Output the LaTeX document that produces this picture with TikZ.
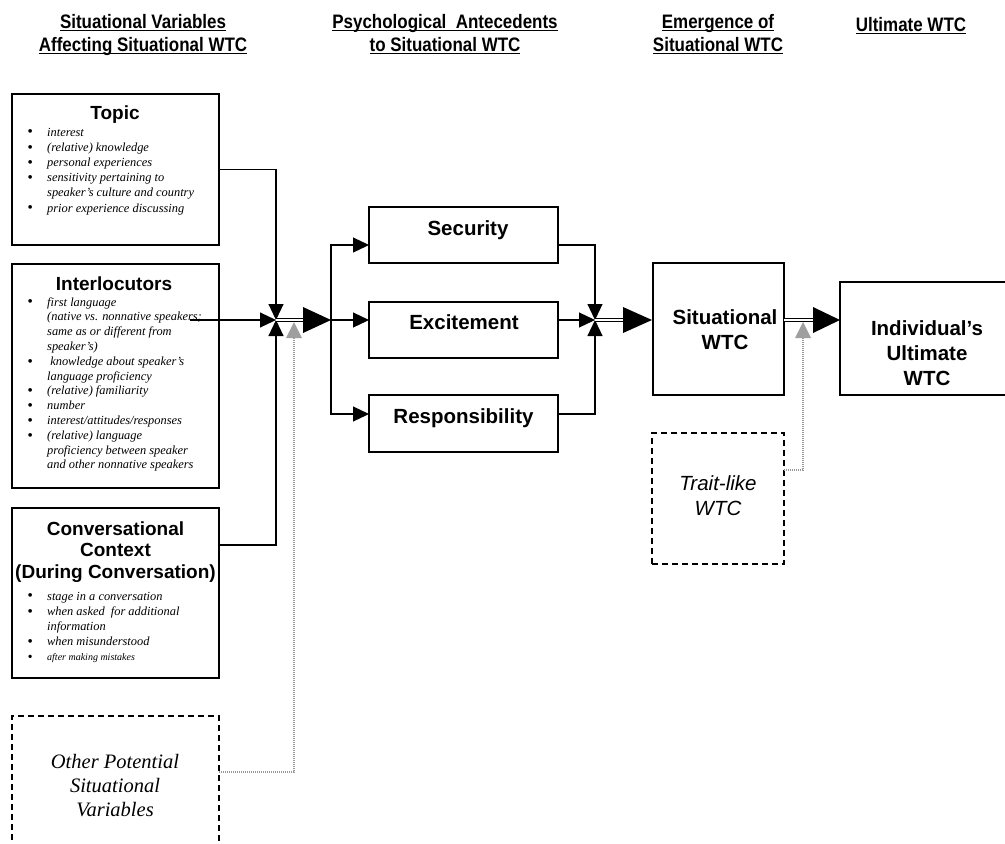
\documentclass[tikz,border=0pt]{standalone}
\usepackage{fontspec}
\setmainfont{Liberation Serif}
\newfontfamily\arial{Liberation Sans}
\newfontfamily\narrow[FakeStretch=0.87]{Liberation Sans}
\usetikzlibrary{arrows.meta,calc}
\newcommand\hul[1]{\setbox0=\hbox{#1}\rlap{\rule[-3.2pt]{\wd0}{1.6pt}}\box0}
\newcommand\mylines[1]{\begin{tabular}[t]{@{}c@{}}#1\end{tabular}}
\newcommand\bu{\makebox[34pt]{\raisebox{-0.8pt}{\smash{\fontsize{15.5}{15}\selectfont\textbullet}}}}
\newcommand\sbu{\makebox[34pt]{\raisebox{-0.6pt}{\smash{\fontsize{14}{15}\selectfont\textbullet}}}}
\newcommand\blist[1]{\begin{tabular}[t]{@{}l@{}l@{}}#1\end{tabular}}
\tikzset{
  box/.style={draw, line width=2pt, inner sep=0pt},
  dbox/.style={draw, line width=1.6pt, dash pattern=on 6pt off 4pt},
  conn/.style={line width=1.2pt},
  sarrow/.style={conn, -{Triangle[length=16pt,width=15pt]}},
  dbl/.style={double, double distance=1.6pt, line width=0.9pt},
  gdot/.style={gray!80, line width=1.5pt, dash pattern=on 1pt off 1pt},
  bigtri/.style={fill=black},
  graytri/.style={fill=gray!75},
  heading/.style={font=\narrow\bfseries\fontsize{19.5}{23}\selectfont, inner sep=0pt, anchor=base},
  btitle/.style={font=\arial\bfseries\fontsize{19}{21.5}\selectfont, inner sep=0pt, anchor=base},
  mtitle/.style={font=\arial\bfseries\fontsize{20.5}{25}\selectfont, inner sep=0pt, anchor=base},
  items/.style={font=\itshape\fontsize{12.4}{15.2}\selectfont, inner sep=0pt, anchor=base west},
  items2/.style={font=\itshape\fontsize{12.4}{14.8}\selectfont, inner sep=0pt, anchor=base west},
  dtext/.style={font=\itshape\fontsize{20.5}{24}\selectfont, inner sep=0pt, anchor=base},
  dtext2/.style={font=\arial\itshape\fontsize{20.5}{25}\selectfont, inner sep=0pt, anchor=base},
}
\begin{document}
\begin{tikzpicture}[x=1pt,y=-1pt]
\useasboundingbox (0,0) rectangle (1005,844);

% headings
\node[heading] (h1) at (143,28) {\mylines{\hul{Situational Variables}\\\hul{Affecting Situational WTC}}};
\node[heading] (h2) at (445,28) {\mylines{\hul{Psychological\ \ Antecedents}\\\hul{to Situational WTC}}};
\node[heading] (h3) at (718,28) {\mylines{\hul{Emergence of}\\\hul{Situational WTC}}};
\node[heading] (h4) at (911,31) {\hul{Ultimate WTC}};

% left boxes
\node[box, minimum width=207pt, minimum height=151pt] (topic) at (115.5,169.5) {};
\node[btitle] (topict) at (115,119) {Topic};
\node[items] (topicl) at (13,136) {\blist{
\bu & interest\\
\bu & (relative) knowledge\\
\bu & personal experiences\\
\bu & sensitivity pertaining to\\
    & speaker’s culture and country\\
\bu & prior experience discussing}};

\node[box, minimum width=207pt, minimum height=224pt] (inter) at (115.5,376) {};
\node[btitle] (intert) at (114,290) {Interlocutors};
\node[items2] (interl) at (13,306) {\blist{
\bu & first language\\
    & (native vs. nonnative speakers;\\
    & same as or different from\\
    & speaker’s)\\
\bu & \ knowledge about speaker’s\\
    & language proficiency\\
\bu & (relative) familiarity\\
\bu & number\\
\bu & interest/attitudes/responses\\
\bu & (relative) language\\
    & proficiency between speaker\\
    & and other nonnative speakers}};

\node[box, minimum width=207pt, minimum height=170pt] (conv) at (115.5,593) {};
\node[btitle] (convt) at (115.5,535) {\mylines{Conversational\\Context\\(During Conversation)}};
\node[items] (convl) at (13,600) {\blist{
\bu & stage in a conversation\\
\bu & when asked\ \ for additional\\
    & information\\
\bu & when misunderstood\\
\sbu & {\fontsize{10}{15.2}\selectfont after making mistakes}}};

% other potential (open at bottom)
\coordinate (o1) at (12,850);
\coordinate (o2) at (12,716);
\coordinate (o3) at (219,716);
\coordinate (o4) at (219,850);
\draw[dbox] (o1) -- (o2) -- (o3) -- (o4);
\node[dtext] (othert) at (115,768) {\mylines{Other Potential\\Situational\\Variables}};

% middle boxes
\node[box, minimum width=189pt, minimum height=56pt] (sec) at (463.5,235) {};
\node[mtitle] (sect) at (468,235) {Security};
\node[box, minimum width=189pt, minimum height=56pt] (exc) at (463.5,330) {};
\node[mtitle] (exct) at (464,329) {Excitement};
\node[box, minimum width=189pt, minimum height=57pt] (res) at (463.5,423.5) {};
\node[mtitle] (rest) at (463.5,423) {Responsibility};

% situational WTC
\node[box, minimum width=131pt, minimum height=132pt] (sit) at (718.5,329) {};
\node[mtitle] (sitt) at (725,324) {\mylines{Situational\\WTC}};

% ultimate
\node[box, minimum width=172pt, minimum height=113pt] (ult) at (926,338.5) {};
\node[mtitle] (ultt) at (927,335) {\mylines{Individual’s\\Ultimate\\WTC}};

% trait-like
\node[dbox, minimum width=132pt, minimum height=131pt, inner sep=0pt] (trait) at (718,498.5) {};
\node[dtext2] (traitt) at (718,490) {\mylines{Trait-like\\WTC}};

% coordinates
\coordinate (j1) at (276,320);
\coordinate (c1) at (219,169.5);
\coordinate (c2) at (190,320);
\coordinate (c3) at (219,545);
\coordinate (b1) at (303,320);
\coordinate (t1) at (331,320);
\coordinate (secin) at (369,245);
\coordinate (excin) at (369,320);
\coordinate (resin) at (369,414);
\coordinate (secout) at (558,245);
\coordinate (excout) at (558,320);
\coordinate (resout) at (558,414);
\coordinate (j2) at (595,320);
\coordinate (b2) at (623,320);
\coordinate (t2) at (652,320);
\coordinate (s1) at (784,320);
\coordinate (b3) at (813,320);
\coordinate (t3) at (840,320);
\coordinate (oe) at (219,772);
\coordinate (g1) at (294,338);
\coordinate (te) at (784,470);
\coordinate (g2) at (803,338);

% junction 1
\draw[sarrow] (c1) -| (j1);
\draw[sarrow] (c2) -- (j1);
\draw[sarrow] (c3) -| (j1);
\draw[dbl] (j1) -- (b1);
\fill[bigtri] ($(b1)+(0,-13)$) -- (t1) -- ($(b1)+(0,13)$) -- cycle;

% fork
\draw[sarrow] (t1) |- (secin);
\draw[sarrow] (t1) -- (excin);
\draw[sarrow] (t1) |- (resin);

% junction 2
\draw[sarrow] (secout) -| (j2);
\draw[sarrow] (excout) -- (j2);
\draw[sarrow] (resout) -| (j2);
\draw[dbl] (j2) -- (b2);
\fill[bigtri] ($(b2)+(0,-13)$) -- (t2) -- ($(b2)+(0,13)$) -- cycle;

% to ultimate
\draw[dbl] (s1) -- (b3);
\fill[bigtri] ($(b3)+(0,-13)$) -- (t3) -- ($(b3)+(0,13)$) -- cycle;

% gray dotted
\draw[gdot] (oe) -| (g1);
\fill[graytri] ($(g1)+(-8,0)$) -- ($(g1)+(0,-16)$) -- ($(g1)+(8,0)$) -- cycle;
\draw[gdot] (te) -| (g2);
\fill[graytri] ($(g2)+(-8,0)$) -- ($(g2)+(0,-16)$) -- ($(g2)+(8,0)$) -- cycle;
\end{tikzpicture}
\end{document}
